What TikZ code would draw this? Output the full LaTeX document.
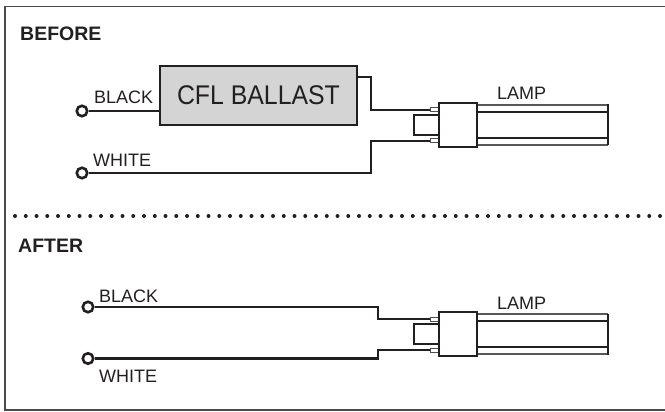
\documentclass[tikz,border=0pt]{standalone}
\usepackage{fontspec}
\setmainfont{Liberation Sans}
\newfontfamily\condfont[FakeStretch=0.92]{Liberation Sans}
\definecolor{ink}{HTML}{231F20}
\definecolor{ballastgray}{HTML}{D4D4D5}
\definecolor{framegray}{HTML}{4A4A4A}
\begin{document}
\begin{tikzpicture}[x=1pt,y=-1pt,
  wire/.style={line width=2.8pt, draw=ink, line join=miter},
  term/.style={circle, draw=ink, line width=2.6pt, fill=white, minimum size=10.5pt, inner sep=0pt},
  lbl/.style={inner sep=0pt, anchor=base west, font=\fontsize{18}{20}\selectfont, text=ink},
  head/.style={inner sep=0pt, anchor=base west, font=\bfseries\fontsize{19.5}{22}\selectfont, text=ink},
  ballastbox/.style={draw=ink, line width=2.3pt, fill=ballastgray, minimum width=197pt, minimum height=59pt, inner sep=0pt, font=\condfont\fontsize{27}{30}\selectfont, text=ink},
  basebox/.style={draw=ink, line width=2.3pt, fill=white, minimum width=38pt, minimum height=44pt, inner sep=0pt},
  plugbox/.style={draw=ink, line width=1.8pt, fill=white, minimum width=25pt, minimum height=20pt, inner sep=0pt},
  pinbox/.style={draw=ink!80, line width=1pt, fill=white, minimum width=9pt, minimum height=4pt, inner sep=0pt},
  tubeedge/.style={draw=ink!75, line width=1.2pt},
  tubeline/.style={draw=ink, line width=1.8pt},
  framestyle/.style={draw=framegray, line width=1.6pt},
  divider/.style={draw=ink, line width=4pt, line cap=round, dash pattern=on 0pt off 10.75pt}
]
\useasboundingbox (0,0) rectangle (665,412);
% frame
\draw[framestyle] (668,6.5) -- (5,6.5) -- (5,410) -- (668,410);
% divider
\draw[divider] (15,216) -- (662,216);

% headings
\node[head] (hbefore) at (20,41) {BEFORE};
\node[head] (hafter) at (18,252) {AFTER};

% lamps
\foreach \dy/\s in {0/a,209/b}{
  \draw[tubeedge] (477,105+\dy) -- (608,105+\dy);
  \draw[tubeedge] (477,145+\dy) -- (608,145+\dy);
  \draw[tubeline] (477,112+\dy) -- (608,112+\dy);
  \draw[tubeline] (477,138+\dy) -- (608,138+\dy);
  \draw[tubeline] (608,104.5+\dy) -- (608,145.5+\dy);
  \node[plugbox] (plug\s) at (426.5,125+\dy) {};
  \node[pinbox] (pinT\s) at (435,110+\dy) {};
  \node[pinbox] (pinB\s) at (435,141+\dy) {};
  \node[basebox] (base\s) at (458,125+\dy) {};
  \node[lbl] (lamp\s) at (497,100+\dy) {LAMP};
}

% BEFORE
\node[ballastbox] (ballast) at (258.5,95.5) {CFL BALLAST};
\node[term] (tba) at (82,111) {};
\node[term] (twa) at (82,173) {};
\node[lbl] (lba) at (94,103) {BLACK};
\node[lbl] (lwa) at (93,166) {WHITE};
\coordinate (k1) at (371,77);
\coordinate (k2) at (371,110);
\coordinate (k3) at (371,173);
\coordinate (k4) at (371,141);
\draw[wire] (tba.east) -- (tba.east -| ballast.west);
\draw[wire] (ballast.east |- k1) -- (k1) -- (k2) -- (pinTa.west);
\draw[wire] (twa.east) -- (k3) -- (k4) -- (pinBa.west);

% AFTER
\node[term] (tbb) at (88,307) {};
\node[term] (twb) at (88,358.5) {};
\node[lbl] (lbb) at (99,302) {BLACK};
\node[lbl] (lwb) at (99,382) {WHITE};
\coordinate (m1) at (378,307);
\coordinate (m2) at (378,319);
\coordinate (m3) at (378,358.5);
\coordinate (m4) at (378,350);
\draw[wire] (tbb.east) -- (m1) -- (m2) -- (pinTb.west);
\draw[wire] (twb.east) -- (m3) -- (m4) -- (pinBb.west);
\end{tikzpicture}
\end{document}
